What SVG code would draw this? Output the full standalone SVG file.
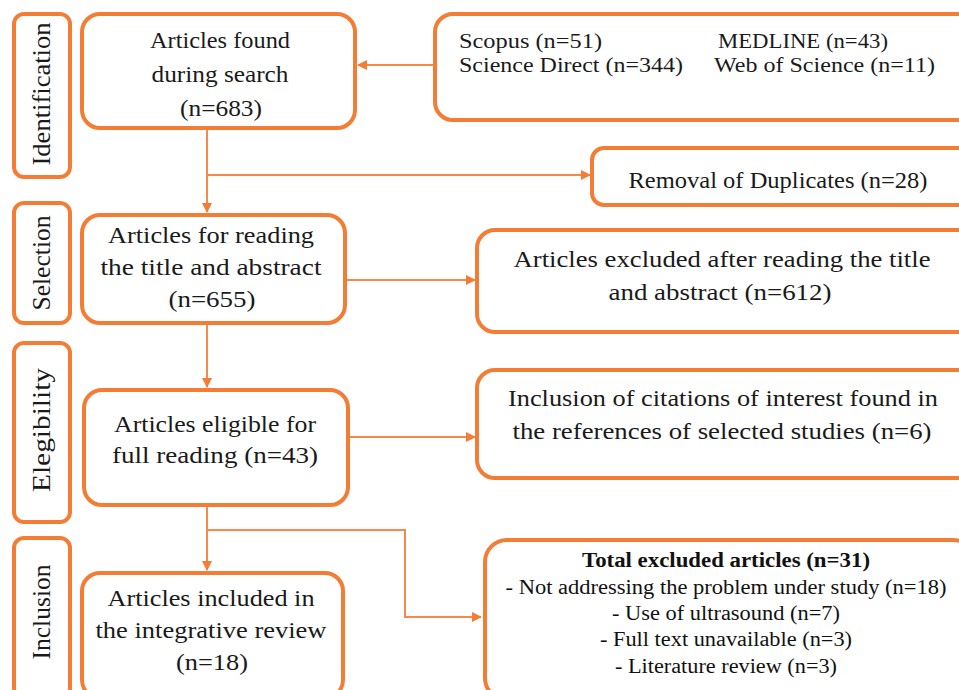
<svg xmlns="http://www.w3.org/2000/svg" width="959" height="690" viewBox="0 0 959 690">
<style>
.box{fill:#fff;stroke:#F47D36;stroke-width:4}
.stage{fill:#fff;stroke:#F47D36;stroke-width:4}
.t{font-family:"Liberation Serif","DejaVu Serif",serif;font-size:24px;fill:#1a1a1a;text-anchor:middle}
.s{font-family:"Liberation Serif","DejaVu Serif",serif;font-size:20px;fill:#1a1a1a}
.c{font-family:"Liberation Serif","DejaVu Serif",serif;font-size:20px;fill:#111;text-anchor:middle}
.lbl{font-family:"Liberation Serif","DejaVu Serif",serif;font-size:25px;fill:#1a1a1a;text-anchor:middle}
.con{fill:none;stroke:#F58A4B;stroke-width:2}
</style>
<defs>
<marker id="ah" markerWidth="10" markerHeight="10" refX="9" refY="5" orient="auto" markerUnits="userSpaceOnUse">
<path d="M0,0 L10,5 L0,10 z" fill="#F47D36"/>
</marker>
</defs>
<rect width="959" height="690" fill="#fff"/>

<g id="connectors">
<path class="con" d="M435,65 H358" marker-end="url(#ah)"/>
<path class="con" d="M207,128 V212" marker-end="url(#ah)"/>
<path class="con" d="M207,175 H590" marker-end="url(#ah)"/>
<path class="con" d="M345,280 H475" marker-end="url(#ah)"/>
<path class="con" d="M207,323 V387" marker-end="url(#ah)"/>
<path class="con" d="M348,437 H475" marker-end="url(#ah)"/>
<path class="con" d="M207,505 V570" marker-end="url(#ah)"/>
<path class="con" d="M207,530 H405 V617 H481" marker-end="url(#ah)"/>
</g>

<g id="stage-identification">
<rect class="stage" x="14" y="14" width="56" height="163" rx="10"/>
<text class="lbl" transform="translate(50,94) rotate(-90)" textLength="143" lengthAdjust="spacingAndGlyphs">Identification</text>
</g>
<g id="stage-selection">
<rect class="stage" x="14" y="203" width="56" height="120" rx="10"/>
<text class="lbl" transform="translate(50,263) rotate(-90)" textLength="95" lengthAdjust="spacingAndGlyphs">Selection</text>
</g>
<g id="stage-elegibility">
<rect class="stage" x="14" y="343" width="56" height="179" rx="10"/>
<text class="lbl" transform="translate(50,430) rotate(-90)" textLength="124" lengthAdjust="spacingAndGlyphs">Elegibility</text>
</g>
<g id="stage-inclusion">
<rect class="stage" x="14" y="538" width="56" height="160" rx="10"/>
<text class="lbl" transform="translate(50,612) rotate(-90)" textLength="95" lengthAdjust="spacingAndGlyphs">Inclusion</text>
</g>

<g id="found">
<rect class="box" x="82" y="14" width="273" height="114" rx="18"/>
<text class="t" x="220" y="48" textLength="140" lengthAdjust="spacingAndGlyphs">Articles found</text>
<text class="t" x="220" y="82" textLength="137" lengthAdjust="spacingAndGlyphs">during search</text>
<text class="t" x="221" y="116" textLength="82" lengthAdjust="spacingAndGlyphs">(n=683)</text>
</g>

<g id="sources">
<rect class="box" x="435" y="14" width="540" height="106" rx="18"/>
<text class="s" x="459" y="48" textLength="143" lengthAdjust="spacingAndGlyphs">Scopus (n=51)</text>
<text class="s" x="718" y="48" textLength="170" lengthAdjust="spacingAndGlyphs">MEDLINE (n=43)</text>
<text class="s" x="459" y="72" textLength="224" lengthAdjust="spacingAndGlyphs">Science Direct (n=344)</text>
<text class="s" x="714" y="72" textLength="221" lengthAdjust="spacingAndGlyphs">Web of Science (n=11)</text>
</g>

<g id="duplicates">
<rect class="box" x="592" y="148" width="380" height="57" rx="12"/>
<text class="t" x="778" y="188" textLength="299" lengthAdjust="spacingAndGlyphs">Removal of Duplicates (n=28)</text>
</g>

<g id="title-abstract">
<rect class="box" x="82" y="215" width="263" height="108" rx="18"/>
<text class="t" x="211" y="243" textLength="206" lengthAdjust="spacingAndGlyphs">Articles for reading</text>
<text class="t" x="211" y="275" textLength="221" lengthAdjust="spacingAndGlyphs">the title and abstract</text>
<text class="t" x="212" y="307" textLength="87" lengthAdjust="spacingAndGlyphs">(n=655)</text>
</g>

<g id="excluded-title">
<rect class="box" x="477" y="230" width="500" height="102" rx="18"/>
<text class="t" x="722" y="267" textLength="417" lengthAdjust="spacingAndGlyphs">Articles excluded after reading the title</text>
<text class="t" x="720" y="300" textLength="223" lengthAdjust="spacingAndGlyphs">and abstract (n=612)</text>
</g>

<g id="eligible">
<rect class="box" x="84" y="390" width="264" height="115" rx="18"/>
<text class="t" x="215" y="432" textLength="202" lengthAdjust="spacingAndGlyphs">Articles eligible for</text>
<text class="t" x="215" y="463" textLength="206" lengthAdjust="spacingAndGlyphs">full reading (n=43)</text>
</g>

<g id="citations">
<rect class="box" x="477" y="370" width="500" height="108" rx="18"/>
<text class="t" x="723" y="406" textLength="430" lengthAdjust="spacingAndGlyphs">Inclusion of citations of interest found in</text>
<text class="t" x="722" y="439" textLength="419" lengthAdjust="spacingAndGlyphs">the references of selected studies (n=6)</text>
</g>

<g id="included">
<rect class="box" x="82" y="573" width="261" height="125" rx="18"/>
<text class="t" x="211" y="606" textLength="207" lengthAdjust="spacingAndGlyphs">Articles included in</text>
<text class="t" x="211" y="638" textLength="231" lengthAdjust="spacingAndGlyphs">the integrative review</text>
<text class="t" x="212" y="670" textLength="72" lengthAdjust="spacingAndGlyphs">(n=18)</text>
</g>

<g id="total-excluded">
<rect class="box" x="485" y="540" width="490" height="160" rx="22"/>
<text class="c" x="726" y="567" font-weight="bold" textLength="288" lengthAdjust="spacingAndGlyphs">Total excluded articles (n=31)</text>
<text class="c" x="726" y="594" textLength="441" lengthAdjust="spacingAndGlyphs">- Not addressing the problem under study (n=18)</text>
<text class="c" x="726" y="620" textLength="228" lengthAdjust="spacingAndGlyphs">- Use of ultrasound (n=7)</text>
<text class="c" x="726" y="646" textLength="252" lengthAdjust="spacingAndGlyphs">- Full text unavailable (n=3)</text>
<text class="c" x="726" y="673" textLength="222" lengthAdjust="spacingAndGlyphs">- Literature review (n=3)</text>
</g>
</svg>
